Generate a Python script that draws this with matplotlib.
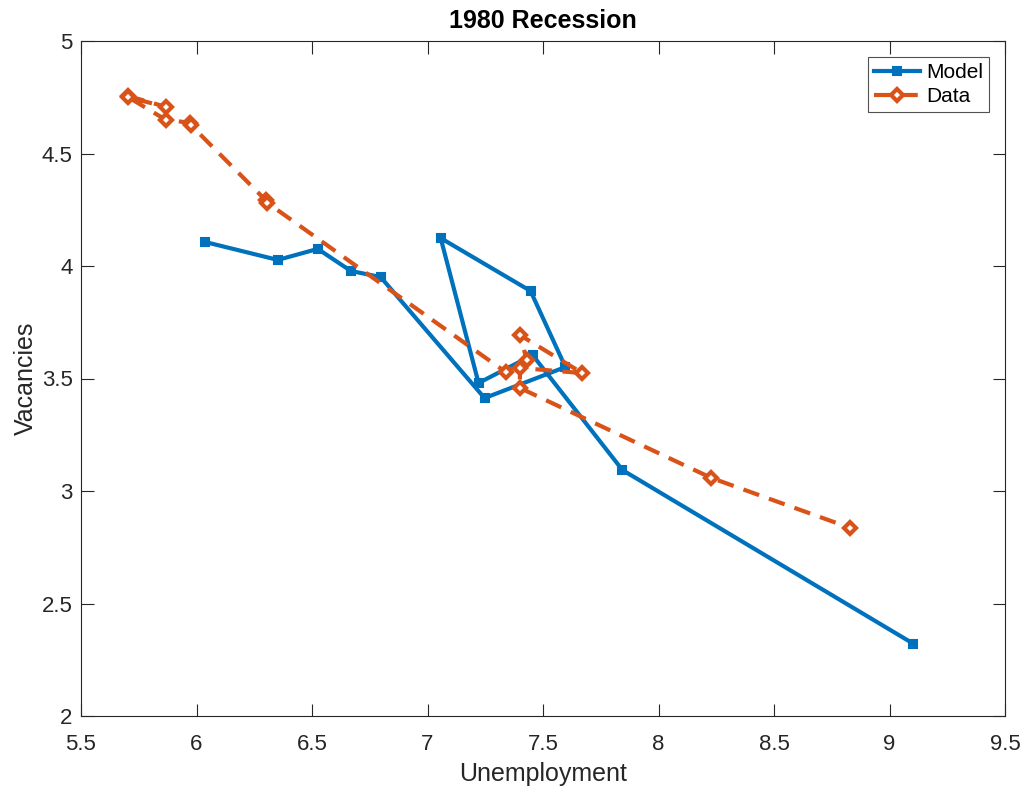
import matplotlib
matplotlib.use("Agg")
import matplotlib.pyplot as plt

plt.rcParams['font.family'] = ['Liberation Sans', 'DejaVu Sans']

# model path (unemployment, vacancies)
model_u = [6.036, 6.352, 6.525, 6.668, 6.797, 7.247, 7.597, 7.446, 7.057, 7.221, 7.455, 7.844, 9.102]
model_v = [4.107, 4.027, 4.076, 3.978, 3.951, 3.413, 3.551, 3.889, 4.124, 3.480, 3.604, 3.093, 2.322]

# data path
data_u = [5.703, 5.868, 5.705, 5.868, 5.971, 5.975, 6.300, 6.305, 7.338, 7.430, 7.400, 7.670, 7.400, 7.400, 8.229, 8.830]
data_v = [4.756, 4.707, 4.750, 4.649, 4.637, 4.627, 4.292, 4.282, 3.529, 3.582, 3.693, 3.524, 3.547, 3.458, 3.058, 2.836]

blue = '#0072BD'
orange = '#D95319'
grey = '#262626'

fig = plt.figure(figsize=(10.27, 7.95), dpi=100)
ax = fig.add_axes([81/1027, 1 - 716/795, 924/1027, 675/795])

ax.plot(model_u, model_v, color=blue, lw=3, marker='s', ms=6,
        mec=blue, mfc=blue, mew=1.5, label='Model')
ax.plot(data_u, data_v, color=orange, lw=3, ls=(0, (4, 2.5)), marker='D', ms=6,
        mec=orange, mfc='white', mew=3, label='Data')

ax.set_xlim(5.5, 9.5)
ax.set_ylim(2, 5)
ax.set_xticks([5.5, 6, 6.5, 7, 7.5, 8, 8.5, 9, 9.5])
ax.set_xticklabels(['5.5', '6', '6.5', '7', '7.5', '8', '8.5', '9', '9.5'])
ax.set_yticks([2, 2.5, 3, 3.5, 4, 4.5, 5])
ax.set_yticklabels(['2', '2.5', '3', '3.5', '4', '4.5', '5'])
ax.tick_params(direction='in', length=9, width=0.8, top=True, right=True,
               colors=grey, labelsize=16)
ax.tick_params(axis='x', pad=13)
ax.tick_params(axis='y', pad=6)
for s in ax.spines.values():
    s.set_color(grey)
    s.set_linewidth(0.8)

ax.set_xlabel('Unemployment', fontsize=18, color=grey, labelpad=5)
ax.set_ylabel('Vacancies', fontsize=18, color=grey, labelpad=3)
ax.set_title('1980 Recession', fontsize=18, fontweight='bold', color='black', pad=9)

leg = ax.legend(loc='upper right', fontsize=15, frameon=True, fancybox=False,
                edgecolor=grey, handlelength=2.2, borderaxespad=0.75,
                handletextpad=0.3, labelspacing=0.25, borderpad=0.3)
leg.get_frame().set_linewidth(0.8)

fig.savefig('out.png', dpi=100)
